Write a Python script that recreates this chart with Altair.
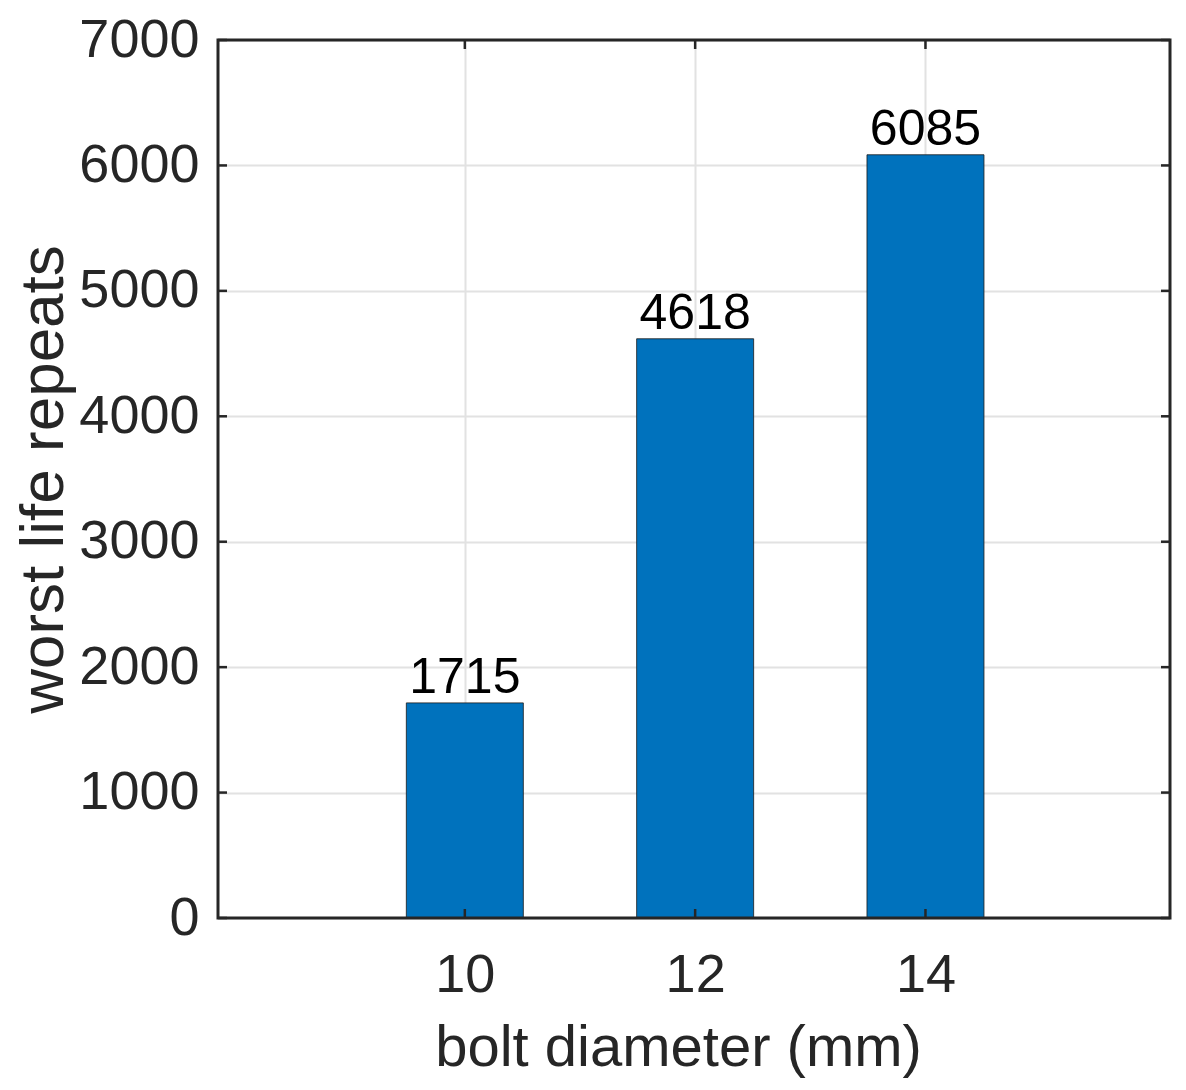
import altair as alt
import pandas as pd

diameters = [10, 12, 14]
life = [1715, 4618, 6085]
x_ticks = [10, 12, 14]
y_ticks = [0, 1000, 2000, 3000, 4000, 5000, 6000, 7000]

W, H = 952, 878
FONT = "Liberation Sans"
DARK = "#262626"

bars_df = pd.DataFrame({"d": diameters, "v": life})
xt_df = pd.DataFrame({"t": x_ticks})
yt_df = pd.DataFrame({"t": y_ticks})

xscale = alt.Scale(domain=[7.9, 16.08], nice=False, zero=False)
yscale = alt.Scale(domain=[0, 7000], nice=False)

xaxis = alt.Axis(
    values=x_ticks, grid=True, gridColor="#e2e2e2", gridWidth=2,
    domain=False, ticks=False, labelFont=FONT, labelFontSize=54,
    labelColor=DARK, labelPadding=30, labelBaseline="top", format="d",
    title="bolt diameter (mm)", titleFont=FONT, titleFontSize=58,
    titleFontWeight="normal", titleColor=DARK, titleBaseline="alphabetic",
    titleX=460, titleY=147, titleAlign="center",
)
yaxis = alt.Axis(
    values=y_ticks, grid=True, gridColor="#e2e2e2", gridWidth=2,
    domain=False, ticks=False, labelFont=FONT, labelFontSize=54,
    labelColor=DARK, labelPadding=19, format="d",
    title="worst life repeats", titleFont=FONT, titleFontSize=62,
    titleFontWeight="normal", titleColor=DARK, titleAngle=270,
    titleBaseline="alphabetic", titleAlign="center",
    titleX=-156, titleY=H / 2,
)

bars = alt.Chart(bars_df).mark_bar(
    size=117, color="#0072BD", stroke="#1a1a1a", strokeWidth=1, strokeOpacity=0.8
).encode(
    x=alt.X("d:Q", scale=xscale, axis=xaxis),
    y=alt.Y("v:Q", scale=yscale, axis=yaxis),
)

labels = alt.Chart(bars_df).mark_text(
    font=FONT, fontSize=50, color="black", baseline="alphabetic", dy=-10
).encode(
    x=alt.X("d:Q", scale=xscale),
    y=alt.Y("v:Q", scale=yscale),
    text=alt.Text("v:Q", format="d"),
)

TL = 9
TW = 2.5
left_ticks = alt.Chart(yt_df).mark_rule(color=DARK, strokeWidth=TW).encode(
    y=alt.Y("t:Q", scale=yscale), x=alt.value(0), x2=alt.value(TL)
)
right_ticks = alt.Chart(yt_df).mark_rule(color=DARK, strokeWidth=TW).encode(
    y=alt.Y("t:Q", scale=yscale), x=alt.value(W - TL), x2=alt.value(W)
)
bottom_ticks = alt.Chart(xt_df).mark_rule(color=DARK, strokeWidth=TW).encode(
    x=alt.X("t:Q", scale=xscale), y=alt.value(H - TL), y2=alt.value(H)
)
top_ticks = alt.Chart(xt_df).mark_rule(color=DARK, strokeWidth=TW).encode(
    x=alt.X("t:Q", scale=xscale), y=alt.value(0), y2=alt.value(TL)
)

frame = alt.Chart(xt_df.head(1)).mark_rect(
    filled=False, stroke=DARK, strokeWidth=3
).encode(
    x=alt.value(0), x2=alt.value(W), y=alt.value(0), y2=alt.value(H)
)

chart = alt.layer(
    bars, labels, left_ticks, right_ticks, bottom_ticks, top_ticks, frame
).properties(
    width=W, height=H,
    autosize=alt.AutoSizeParams(type="none"),
    padding={"left": 210, "top": 32, "right": 8, "bottom": 160},
).configure_view(stroke=None).configure(background="white")

chart.save("out.html", embed_options={"renderer": "svg", "actions": False})
